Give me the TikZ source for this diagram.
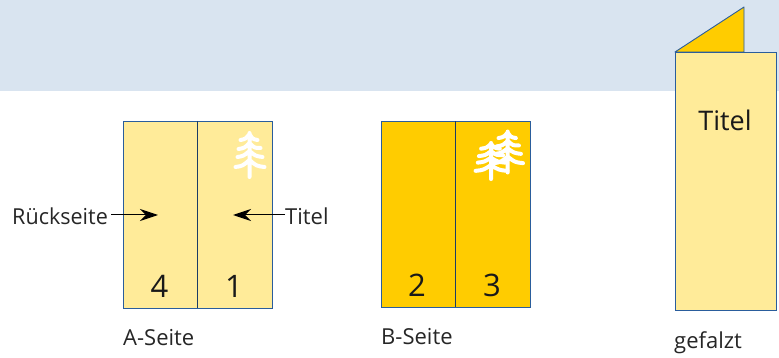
\documentclass[tikz,border=0pt]{standalone}
\usepackage{fontspec}
\setmainfont{Open Sans}
\usepackage[svgnames, dvipsnames]{xcolor}
\usetikzlibrary{calc, arrows.meta, positioning}
\definecolor{bandblue}{HTML}{D9E4F0}
\definecolor{paleyellow}{HTML}{FFEB99}
\definecolor{deepyellow}{HTML}{FFCC00}
\definecolor{edgeblue}{HTML}{2A5D9C}
\tikzset{>={Stealth[length=18pt,width=12pt,inset=6pt]},
  panel/.style={draw=edgeblue, line width=0.9pt},
  fold/.style={draw=black!35!edgeblue, line width=0.7pt},
  caption/.style={font=\fontsize{22}{24}\selectfont, text=black!85, inner sep=0pt},
  pagenum/.style={font=\fontsize{31}{34}\selectfont, text=black!90, inner sep=0pt},
  pointer/.style={->, line width=1pt},
  tree/.pic={
    \draw[white, line width=4pt, line cap=round, line join=round]
      (0,-22)--(0,22)
      (-9,-15) .. controls (-4,-16) .. (0,-21) .. controls (3,-16) .. (8,-15)
      (-11,-6) .. controls (-5,-7) .. (0,-12) .. controls (5,-7) .. (11,-7)
      (-12,2) .. controls (-6,1) .. (0,-4) .. controls (6,1) .. (13,2)
      (-14,12) .. controls (-7,11) .. (0,5) .. controls (7,11) .. (15,12);
  }
}
\begin{document}
\begin{tikzpicture}[x=1pt,y=-1pt]
\useasboundingbox (0,0) rectangle (779,358);
\fill[bandblue] (0,0) rectangle (779,91);
% A-Seite
\draw[panel, fill=paleyellow] (123.5,121) rectangle (272.5,308);
\draw[fold] (197.5,121)--(197.5,308);
\pic at (249.5,155) {tree};
\node[pagenum] (numfour) at (159.5,286) {4};
\node[pagenum] (numone) at (234,286) {1};
\node[caption, anchor=base west] (captiona) at (123,345) {A-Seite};
\node[caption, anchor=base west, xscale=0.98] (back) at (12,225) {Rückseite};
\node[caption, anchor=base west] (titlea) at (285,225) {Titel};
\coordinate (backend) at (158,215);
\coordinate (titleend) at (233,215);
\draw[pointer] (back.east |- backend)++(3,0)--(backend);
\draw[pointer] (titlea.west |- titleend)--(titleend);
% B-Seite
\draw[panel, fill=deepyellow] (381,121) rectangle (530,307);
\draw[fold] (455.5,121)--(455.5,307);
\pic[xscale=1.02,yscale=0.93] at (507.7,152) {tree};
\pic[xscale=1.1,yscale=0.82] at (491,161) {tree};
\node[pagenum] (numtwo) at (417,285) {2};
\node[pagenum] (numthree) at (492,285) {3};
\node[caption, anchor=base west] (captionb) at (381,344) {B-Seite};
% gefalzt
\draw[panel, fill=deepyellow, line join=round] (675,52)--(744,7)--(744,52)--cycle;
\draw[panel, fill=paleyellow] (675,52) rectangle (776,310);
\node[font=\fontsize{27}{30}\selectfont, text=black!90, inner sep=0pt] (titleb) at (725,120) {Titel};
\node[caption, anchor=base west] (captionc) at (674,348) {gefalzt};
\end{tikzpicture}
\end{document}
